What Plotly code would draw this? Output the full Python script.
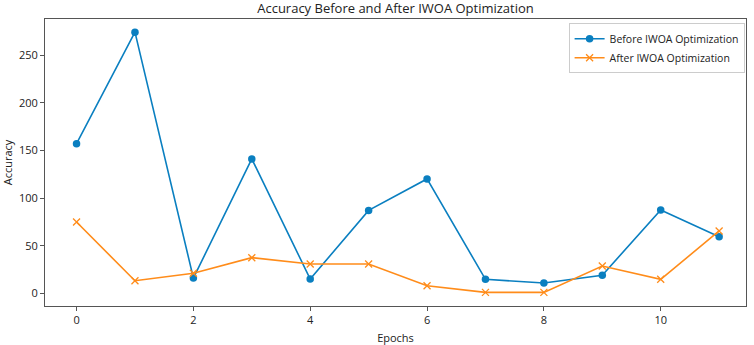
import plotly.graph_objects as go

epochs = list(range(12))
before_iwoa = [157, 274, 16, 141, 15, 87, 120, 14.7, 10.8, 19, 87.4, 59.4]
after_iwoa = [74.8, 13.2, 21, 37.4, 30.7, 30.7, 8, 1, 1, 28.6, 14.7, 65.4]
x_ticks = [0, 2, 4, 6, 8, 10]
y_ticks = [0, 50, 100, 150, 200, 250]

FONT = "Open Sans"
fig = go.Figure()
fig.add_trace(go.Scatter(x=epochs, y=before_iwoa, mode="lines+markers",
                         name="Before IWOA Optimization",
                         line=dict(color="#0a7fc0", width=1.6),
                         marker=dict(symbol="circle", size=7.5, color="#0a7fc0")))
fig.add_trace(go.Scatter(x=epochs, y=after_iwoa, mode="lines+markers",
                         name="After IWOA Optimization",
                         line=dict(color="#ff8c1a", width=1.6),
                         marker=dict(symbol="x-thin", size=7,
                                     line=dict(color="#ff8c1a", width=1.3),
                                     color="#ff8c1a")))

axis_common = dict(showgrid=False, zeroline=False, showline=True, mirror=True,
                   linecolor="#555", linewidth=1, ticks="outside", ticklen=4,
                   tickcolor="#555", automargin=False,
                   tickfont=dict(family=FONT, size=11, color="#222"))
fig.update_xaxes(range=[-0.54, 11.46], tickvals=x_ticks,
                 title=dict(text="Epochs", font=dict(family=FONT, size=11, color="#222")),
                 **axis_common)
fig.update_yaxes(range=[-13.3, 287.8], tickvals=y_ticks,
                 title=dict(text="Accuracy", font=dict(family=FONT, size=11, color="#222")),
                 **axis_common)

fig.update_layout(
    width=754, height=345,
    margin=dict(l=45, r=8, t=19, b=39),
    paper_bgcolor="white", plot_bgcolor="white",
    title=dict(text="Accuracy Before and After IWOA Optimization",
               font=dict(family=FONT, size=13, color="#222"),
               x=0.5, xref="paper", xanchor="center", y=0.99, yanchor="top"),
    legend=dict(x=0.998, y=0.985, xanchor="right", yanchor="top",
                bgcolor="white", bordercolor="#ccc", borderwidth=1,
                font=dict(family=FONT, size=10.5, color="#222"),
                itemwidth=30, tracegroupgap=0),
    showlegend=True,
)

fig.write_html("out.html", config={"displayModeBar": False},
               post_script="document.body.style.margin='0';document.body.style.overflow='hidden';")
